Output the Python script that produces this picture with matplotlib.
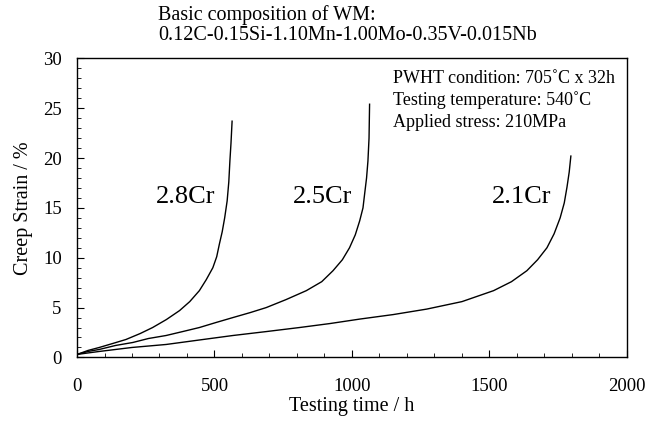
import numpy as np
import matplotlib
matplotlib.use('Agg')
import matplotlib.pyplot as plt
from matplotlib.ticker import MultipleLocator

plt.rcParams['font.family'] = ['Liberation Serif', 'DejaVu Serif']

# creep curves (testing time in h, creep strain in %)
t_28 = [0, 40, 81, 130, 178, 230, 275, 325, 373, 410, 445, 470, 494, 508, 518, 528, 537, 546, 552, 556, 560, 564]
e_28 = [0.3, 0.7, 1.0, 1.4, 1.8, 2.4, 3.0, 3.8, 4.7, 5.6, 6.7, 7.8, 9.0, 10.1, 11.4, 12.6, 14.0, 15.7, 17.6, 19.7, 21.5, 23.7]
t_25 = [0, 40, 81, 140, 203, 260, 324, 385, 445, 505, 567, 630, 688, 760, 834, 890, 931, 965, 991, 1012, 1028, 1040, 1046, 1053, 1058, 1062, 1064]
e_25 = [0.3, 0.6, 0.8, 1.2, 1.5, 1.9, 2.2, 2.6, 3.0, 3.5, 4.0, 4.5, 5.0, 5.8, 6.7, 7.6, 8.7, 9.8, 11.0, 12.3, 13.7, 15.0, 16.4, 18.0, 19.7, 22.0, 25.4]
t_21 = [0, 40, 81, 200, 324, 445, 567, 690, 809, 920, 1029, 1150, 1272, 1400, 1515, 1580, 1636, 1675, 1709, 1735, 1757, 1772, 1782, 1790, 1796]
e_21 = [0.3, 0.45, 0.6, 1.0, 1.3, 1.75, 2.2, 2.6, 3.0, 3.4, 3.85, 4.3, 4.85, 5.6, 6.7, 7.6, 8.7, 9.8, 11.0, 12.4, 14.0, 15.5, 17.1, 18.6, 20.2]

curve_labels = ['2.8Cr', '2.5Cr', '2.1Cr']
label_x = [288, 785, 1508]
label_y = [16.05, 16.05, 16.05]

conditions = ['PWHT condition: 705˚C x 32h',
              'Testing temperature: 540˚C',
              'Applied stress: 210MPa']
cond_y = [28.0, 25.8, 23.6]
title = 'Basic composition of WM:\n0.12C-0.15Si-1.10Mn-1.00Mo-0.35V-0.015Nb'

fig = plt.figure(figsize=(6.61, 4.23), dpi=100)
ax = fig.add_axes([0.1165, 0.155, 0.832, 0.707])

for t, e in [(t_28, e_28), (t_25, e_25), (t_21, e_21)]:
    ax.plot(t, e, color='black', lw=1.0)

for name, x, y in zip(curve_labels, label_x, label_y):
    ax.text(x, y, name, fontsize=19, ha='left', va='center')

for line, y in zip(conditions, cond_y):
    ax.text(1150, y, line, fontsize=13, ha='left', va='center')

fig.text(0.239, 0.988, title, fontsize=14.5, va='top', ha='left', linespacing=1.05)

ax.set_xlim(0, 2000)
ax.set_ylim(0, 30)
ax.xaxis.set_major_locator(MultipleLocator(500))
ax.xaxis.set_minor_locator(MultipleLocator(100))
ax.yaxis.set_major_locator(MultipleLocator(5))
ax.yaxis.set_minor_locator(MultipleLocator(1))
ax.tick_params(which='both', direction='in', top=False, right=False, labelsize=13.5)
ax.tick_params(which='major', length=5)
ax.tick_params(which='minor', length=3)
ax.tick_params(axis='x', which='major', pad=15)
ax.tick_params(axis='y', which='major', pad=11)
ax.set_xlabel('Testing time / h', fontsize=14.5, labelpad=1)
ax.set_ylabel('Creep Strain / %', fontsize=14.5, labelpad=7)
for s in ax.spines.values():
    s.set_linewidth(1.0)

plt.savefig('out.png', dpi=100)
